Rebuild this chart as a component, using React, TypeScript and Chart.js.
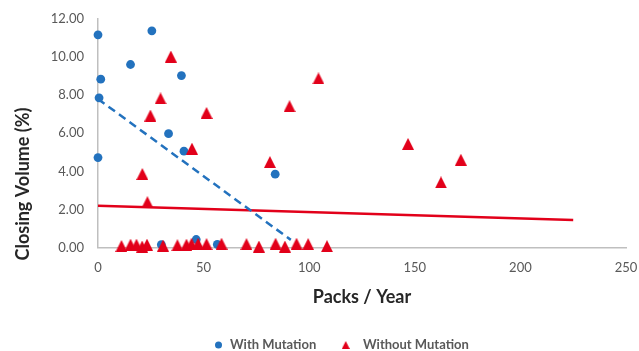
import React, { useEffect, useRef } from "react";
import { Chart, registerables } from "chart.js";

Chart.register(...registerables);

// ---- Data ----
const withMutationX = [0, 1.3, 0.5, 0, 25.5, 15.4, 39.5, 33.4, 40.7, 83.9, 46.5, 30.0, 56.5];
const withMutationY = [11.17, 8.84, 7.86, 4.72, 11.38, 9.61, 9.03, 5.98, 5.06, 3.85, 0.42, 0.15, 0.16];

const withoutMutationX = [
  34.5, 29.6, 24.8, 51.4, 44.5, 21.0, 23.4, 104.4, 90.7, 81.4, 146.8, 171.8, 162.4,
  11.1, 15.4, 18.2, 20.9, 23.2, 30.8, 37.6, 41.9, 44.3, 47.4, 51.4, 58.5, 70.3, 76.2, 84.1, 88.5, 94.0, 99.5, 108.4,
];
const withoutMutationY = [
  10.03, 7.83, 6.93, 7.07, 5.19, 3.86, 2.38, 8.88, 7.42, 4.49, 5.44, 4.61, 3.42,
  0.08, 0.15, 0.15, 0.05, 0.15, 0.1, 0.12, 0.15, 0.2, 0.2, 0.18, 0.2, 0.18, 0.05, 0.2, 0.05, 0.2, 0.18, 0.07,
];

// Trend lines (end points)
const trendWithX = [0, 91.3];
const trendWithY = [7.8, 0.4];
const trendWithoutX = [0, 225];
const trendWithoutY = [2.19, 1.44];

const xTicks = [0, 50, 100, 150, 200, 250];
const yTicks = [0, 2, 4, 6, 8, 10, 12];

const seriesLabels = ["With Mutation", "Without Mutation"];
const xTitle = "Packs / Year";
const yTitle = "Closing Volume (%)";

const BLUE = "#2372BE";
const RED = "#E2001A";
const FONT = "Lato, 'Open Sans', sans-serif";

function makeTriangle(w: number, h: number, color: string) {
  const c = document.createElement("canvas");
  c.width = w;
  c.height = h;
  const ctx = c.getContext("2d")!;
  ctx.fillStyle = color;
  ctx.beginPath();
  ctx.moveTo(w / 2, 0);
  ctx.lineTo(w, h);
  ctx.lineTo(0, h);
  ctx.closePath();
  ctx.fill();
  return c;
}

const zip = (xs: number[], ys: number[]) => xs.map((x, i) => ({ x, y: ys[i] }));

export default function App() {
  const ref = useRef<HTMLCanvasElement | null>(null);

  useEffect(() => {
    if (!ref.current) return;
    const tri = makeTriangle(12, 12, RED);
    const legendTri = makeTriangle(8, 8, RED);

    const overlay = {
      id: "overlay",
      afterDraw(chart: any) {
        const ctx = chart.ctx;
        ctx.save();
        // Axis titles
        ctx.fillStyle = "#262626";
        ctx.font = `bold 18px ${FONT}`;
        ctx.textAlign = "center";
        ctx.textBaseline = "middle";
        ctx.fillText(xTitle, (chart.chartArea.left + chart.chartArea.right) / 2, 297);
        ctx.save();
        ctx.translate(23, 184);
        ctx.rotate(-Math.PI / 2);
        ctx.fillText(yTitle, 0, 0);
        ctx.restore();
        // Legend
        const ly = 345;
        ctx.font = `bold 13px ${FONT}`;
        ctx.textAlign = "left";
        ctx.beginPath();
        ctx.fillStyle = BLUE;
        ctx.arc(218.5, ly, 3.5, 0, Math.PI * 2);
        ctx.fill();
        ctx.fillStyle = "#595959";
        ctx.fillText(chart.data.datasets[1].label, 230, ly);
        ctx.drawImage(legendTri, 345.7 - 4, ly - 4);
        ctx.fillStyle = "#595959";
        ctx.fillText(chart.data.datasets[0].label, 363, ly);
        ctx.restore();
      },
    };

    const chart = new Chart(ref.current, {
      type: "scatter",
      data: {
        datasets: [
          {
            label: seriesLabels[1],
            data: zip(withoutMutationX, withoutMutationY),
            pointStyle: tri as any,
            pointRadius: 6,
            backgroundColor: RED,
            borderColor: RED,
            order: 0,
            clip: false as any,
          },
          {
            label: seriesLabels[0],
            data: zip(withMutationX, withMutationY),
            pointStyle: "circle",
            pointRadius: 4.4,
            pointBorderWidth: 0,
            backgroundColor: BLUE,
            borderColor: BLUE,
            order: 1,
            clip: false as any,
          },
          {
            label: "trend with",
            data: zip(trendWithX, trendWithY),
            showLine: true,
            pointRadius: 0,
            borderColor: BLUE,
            borderWidth: 2.5,
            borderDash: [8, 5],
            order: 2,
            clip: false as any,
          } as any,
          {
            label: "trend without",
            data: zip(trendWithoutX, trendWithoutY),
            showLine: true,
            pointRadius: 0,
            borderColor: RED,
            borderWidth: 2.5,
            order: 3,
            clip: false as any,
          } as any,
        ],
      },
      options: {
        animation: false,
        responsive: false,
        devicePixelRatio: 1,
        layout: { padding: { left: 0, top: 19, right: 13, bottom: 0 } },
        plugins: {
          legend: { display: false },
          tooltip: { enabled: false },
        },
        scales: {
          x: {
            type: "linear",
            min: 0,
            max: 250,
            afterBuildTicks: (s: any) => {
              s.ticks = xTicks.map((v) => ({ value: v }));
            },
            afterFit: (s: any) => {
              s.height = 103.5;
              s.paddingLeft = 0;
              s.paddingRight = 0;
            },
            grid: { display: false, drawTicks: false },
            border: { display: true, color: "#BFBFBF", width: 1.5 },
            ticks: {
              padding: 13,
              color: "#595959",
              font: { family: FONT, size: 13 },
              maxRotation: 0,
              callback: (v: any) => String(v),
            },
          },
          y: {
            type: "linear",
            min: 0,
            max: 12,
            afterBuildTicks: (s: any) => {
              s.ticks = yTicks.map((v) => ({ value: v }));
            },
            afterFit: (s: any) => {
              s.width = 98;
              s.paddingTop = 0;
              s.paddingBottom = 0;
            },
            grid: { display: false, drawTicks: false },
            border: { display: true, color: "#BFBFBF", width: 1.5 },
            ticks: {
              padding: 14,
              color: "#595959",
              font: { family: FONT, size: 13 },
              callback: (v: any) => Number(v).toFixed(2),
            },
          },
        },
      },
      plugins: [overlay],
    });
    return () => chart.destroy();
  }, []);

  return (
    <div style={{ position: "absolute", left: 0, top: 0, width: 639, height: 351, background: "#fff" }}>
      <canvas ref={ref} width={639} height={351} style={{ width: 639, height: 351, display: "block" }} />
    </div>
  );
}
